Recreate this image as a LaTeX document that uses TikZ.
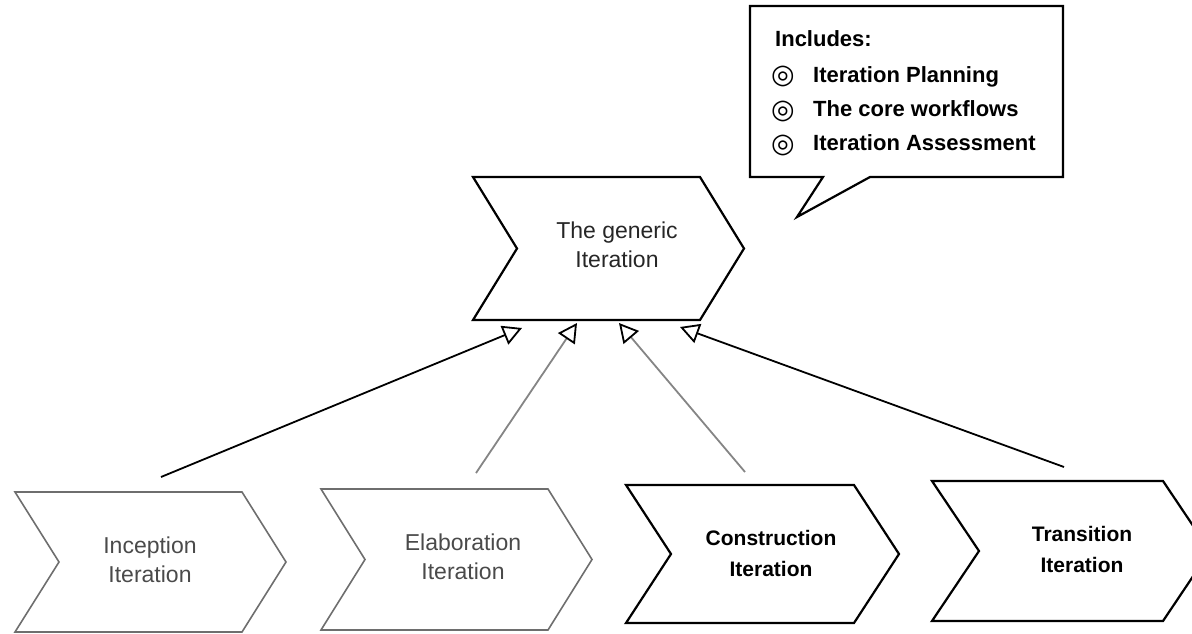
\documentclass[tikz,border=0pt]{standalone}
\usepackage{fontspec}
\setmainfont{Liberation Sans}
\newfontfamily\symfont{DejaVu Sans}
\usetikzlibrary{arrows.meta}
\definecolor{lightink}{HTML}{6E6E6E}
\definecolor{softtext}{HTML}{4A4A4A}
\definecolor{linkgray}{HTML}{858585}

% chevron outline: style, left x, top y, bottom y, body width, point depth
\newcommand\chevshape[6]{%
  \draw[#1] (#2,#3) -- ({#2+#5},#3) -- ({#2+#5+#6},{(#3+#4)/2})
    -- ({#2+#5},#4) -- (#2,#4) -- ({#2+#6},{(#3+#4)/2}) -- cycle;}

\begin{document}
\begin{tikzpicture}[x=1pt,y=-1pt,
  chevdark/.style={draw=black, line width=2.2pt, line join=miter},
  chevlight/.style={draw=lightink, line width=1.6pt, line join=miter},
  lbl/.style={align=center, inner sep=0pt, text=black!85, font=\fontsize{23}{29}\selectfont},
  lbllight/.style={lbl, text=softtext},
  lblbold/.style={align=center, inner sep=0pt, font=\fontsize{21}{31}\selectfont\bfseries},
  calltext/.style={anchor=base west, inner sep=0pt, font=\fontsize{22}{26}\selectfont\bfseries},
  bullet/.style={anchor=base, inner sep=0pt, font=\symfont\fontsize{27}{30}\selectfont\bfseries},
  genarrow/.style={-{Triangle[open,length=19pt,width=20pt,color=black,line width=1.8pt]},
    line width=1.8pt},
]
\useasboundingbox (0,0) rectangle (1192,634);
\clip (0,0) rectangle (1192,634);

% callout with the contents of every iteration
\draw[line width=2.2pt, line join=miter]
  (750,6) -- (1063,6) -- (1063,177) -- (870,177) -- (797,217) -- (823,177) -- (750,177) -- cycle;
\node[calltext] (inc) at (775,47) {Includes:};
\node[bullet] (b1) at (783,84) {◎};
\node[bullet] (b2) at (783,118) {◎};
\node[bullet] (b3) at (783,152) {◎};
\node[calltext] (i1) at (813,82) {Iteration Planning};
\node[calltext] (i2) at (813,116) {The core workflows};
\node[calltext] (i3) at (813,150) {Iteration Assessment};

% the generic iteration
\chevshape{chevdark}{473}{177}{320}{227}{44}
\node[lbl] (gen) at (617,245) {The generic\\Iteration};

% the four specialised iterations
\chevshape{chevlight}{15}{492}{632}{227}{44}
\node[lbllight] (inception) at (150,560) {Inception\\Iteration};

\chevshape{chevlight}{321}{489}{630}{227}{44}
\node[lbllight] (elaboration) at (463,557) {Elaboration\\Iteration};

\chevshape{chevdark}{626}{485}{623}{228}{45}
\node[lblbold] (construction) at (771,553) {Construction\\Iteration};

\chevshape{chevdark}{932}{481}{621}{231}{47}
\node[lblbold] (transition) at (1082,549) {Transition\\Iteration};

% generalisation links
\coordinate (s1) at (161,477);  \coordinate (t1) at (522,328);
\coordinate (s2) at (476,473);  \coordinate (t2) at (577,323);
\coordinate (s3) at (745,472);  \coordinate (t3) at (619,323);
\coordinate (s4) at (1064,467); \coordinate (t4) at (680,327);

\draw[genarrow, draw=black] (s1) -- (t1);
\draw[genarrow, draw=linkgray] (s2) -- (t2);
\draw[genarrow, draw=linkgray] (s3) -- (t3);
\draw[genarrow, draw=black] (s4) -- (t4);
\end{tikzpicture}
\end{document}
